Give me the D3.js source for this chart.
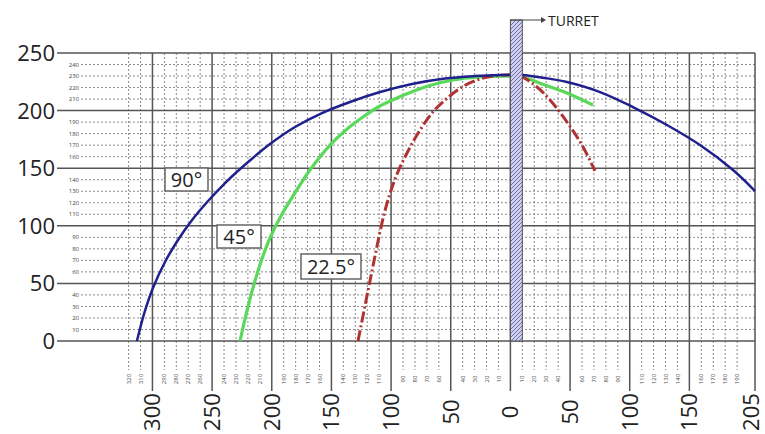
<!DOCTYPE html>
<html>
<head>
<meta charset="utf-8">
<script src="https://cdn.jsdelivr.net/npm/d3@7"></script>
<style>
  body { margin: 0; background: #fff; }
  text { font-family: "Open Sans", "DejaVu Sans", sans-serif; }
</style>
</head>
<body>
<div class="chart"></div>
<script>
// distances: negative = behind the turret (left side), positive = in front
var majorX = [-300, -250, -200, -150, -100, -50, 0, 50, 100, 150, 205];
var majorY = [0, 50, 100, 150, 200, 250];
var minorX = [-320, -310, -290, -280, -270, -260, -240, -230, -220, -210,
              -190, -180, -170, -160, -140, -130, -120, -110, -90, -80, -70, -60,
              -40, -30, -20, -10, 10, 20, 30, 40, 60, 70, 80, 90,
              110, 120, 130, 140, 160, 170, 180, 190];
var minorY = [10, 20, 30, 40, 60, 70, 80, 90, 110, 120, 130, 140,
              160, 170, 180, 190, 210, 220, 230, 240];

var dist90 = [-313, -307.1, -299.6, -289.5, -278.6, -266.8, -253.4, -238.3, -220.8, -201.5,
              -180.5, -157.9, -134.4, -109.2, -82.5, -54.8, -29.7, -8.7,
              9.7, 29, 47.4, 75.1, 102.7, 131.2, 158.9, 186.6, 205];
var height90 = [0, 23.4, 46, 68.6, 87.7, 105, 121.5, 138, 154.5, 171,
                185.8, 197.9, 207.5, 216.1, 223.1, 227.9, 230, 230.9,
                230.9, 228.3, 224.8, 216.1, 203.1, 187.5, 170.1, 148.4, 130.2];
var dist45 = [-226.6, -221.6, -215.8, -209.1, -201.5, -192.3, -182.2, -168, -151.2, -137.8,
              -123.6, -109.3, -95.1, -80.8, -67.4, -48.1, -25.5, -4.5,
              9.7, 29, 47.4, 69.2];
var height45 = [0, 22.6, 46, 68.6, 89.4, 108.5, 125.9, 148.4, 170.1, 183.2,
                194.4, 204, 210.9, 217, 221.8, 226.6, 229.2, 230,
                229.2, 222.2, 215.3, 204.9];
var dist22 = [-127.7, -121.9, -116, -110.2, -105.2, -100.2, -94.3, -87.5, -78.3, -65,
              -53.3, -39.9, -25.5, -11.2, -0.3,
              9.7, 22.3, 33.2, 47.4, 60.9, 70.9];
var height22 = [0, 30.4, 60.8, 90.3, 112.8, 130.2, 146.7, 161.5, 178.8, 198.8,
                210.5, 220.9, 227.4, 230.5, 230.9,
                229.2, 220.5, 209.2, 190.1, 168.4, 147.6];

var labels = ["90°", "45°", "22.5°"];

var width = 765, height = 434;
var svg = d3.select(".chart").append("svg")
  .attr("width", width)
  .attr("height", height);

var x = d3.scaleLinear().domain([-380, 205]).range([57, 755]);
var y = d3.scaleLinear().domain([0, 250]).range([341, 53]);

// hatch pattern for the turret
var pat = svg.append("defs").append("pattern")
  .attr("id", "hatch")
  .attr("patternUnits", "userSpaceOnUse")
  .attr("width", 4).attr("height", 4);
pat.append("rect").attr("width", 4).attr("height", 4).attr("fill", "#cfcfee");
pat.append("path")
  .attr("d", "M-1,1 l2,-2 M0,4 l4,-4 M3,5 l2,-2")
  .attr("stroke", "#6d6db0").attr("stroke-width", 1);

var grid = svg.append("g");

// minor dotted grid
grid.selectAll(".minor-h")
  .data(minorY)
  .enter()
    .append("line")
      .attr("x1", 81).attr("x2", 755)
      .attr("y1", function(d) { return y(d); })
      .attr("y2", function(d) { return y(d); })
      .attr("stroke", "#8a8a8a")
      .attr("stroke-width", 1)
      .attr("stroke-dasharray", "2,2");

grid.selectAll(".minor-v")
  .data(minorX)
  .enter()
    .append("line")
      .attr("x1", function(d) { return x(d); })
      .attr("x2", function(d) { return x(d); })
      .attr("y1", 53).attr("y2", 370)
      .attr("stroke", "#8a8a8a")
      .attr("stroke-width", 1)
      .attr("stroke-dasharray", "2,2");

// minor labels (tiny)
grid.selectAll(".minor-y-label")
  .data(minorY)
  .enter()
    .append("text")
      .attr("x", 79)
      .attr("y", function(d) { return y(d); })
      .attr("dy", "0.35em")
      .attr("text-anchor", "end")
      .attr("font-size", "6px")
      .attr("fill", "#444")
      .text(function(d) { return d; });

grid.selectAll(".minor-x-label")
  .data(minorX)
  .enter()
    .append("text")
      .attr("transform", function(d) { return "translate(" + x(d) + ",379) rotate(-90)"; })
      .attr("dy", "0.35em")
      .attr("text-anchor", "middle")
      .attr("font-size", "6px")
      .attr("fill", "#444")
      .text(function(d) { return Math.abs(d); });

// major grid
grid.selectAll(".major-h")
  .data(majorY)
  .enter()
    .append("line")
      .attr("x1", 57).attr("x2", 755)
      .attr("y1", function(d) { return y(d); })
      .attr("y2", function(d) { return y(d); })
      .attr("stroke", "#555")
      .attr("stroke-width", 1.5);

grid.selectAll(".major-v")
  .data(majorX)
  .enter()
    .append("line")
      .attr("x1", function(d) { return x(d); })
      .attr("x2", function(d) { return x(d); })
      .attr("y1", 53).attr("y2", 391)
      .attr("stroke", "#555")
      .attr("stroke-width", 1.5);

grid.selectAll(".major-y-label")
  .data(majorY)
  .enter()
    .append("text")
      .attr("x", 55)
      .attr("y", function(d) { return y(d); })
      .attr("dy", "0.36em")
      .attr("text-anchor", "end")
      .attr("font-size", "22px")
      .attr("fill", "#222")
      .text(function(d) { return d; });

grid.selectAll(".major-x-label")
  .data(majorX)
  .enter()
    .append("text")
      .attr("transform", function(d) {
        var px = Math.min(x(d), 751);
        return "translate(" + px + ",412) rotate(-90)";
      })
      .attr("dy", "0.36em")
      .attr("text-anchor", "middle")
      .attr("font-size", "22px")
      .attr("fill", "#222")
      .text(function(d) { return Math.abs(d); });

// trajectories
var line = d3.line()
  .x(function(d) { return x(d[0]); })
  .y(function(d) { return y(d[1]); })
  .curve(d3.curveCatmullRom);

function pts(xs, ys) { return xs.map(function(v, i) { return [v, ys[i]]; }); }

svg.append("path")
  .attr("d", line(pts(dist45, height45)))
  .attr("fill", "none")
  .attr("stroke", "#5ad85a")
  .attr("stroke-width", 3.2);

svg.append("path")
  .attr("d", line(pts(dist22, height22)))
  .attr("fill", "none")
  .attr("stroke", "#b03333")
  .attr("stroke-width", 3)
  .attr("stroke-dasharray", "11,3,2,3");

svg.append("path")
  .attr("d", line(pts(dist90, height90)))
  .attr("fill", "none")
  .attr("stroke", "#20208e")
  .attr("stroke-width", 2.5);

// turret
svg.append("rect")
  .attr("x", x(0)).attr("y", 20)
  .attr("width", x(10) - x(0))
  .attr("height", y(0) - 20)
  .attr("fill", "url(#hatch)")
  .attr("stroke", "#555")
  .attr("stroke-width", 1);

svg.append("line")
  .attr("x1", x(0)).attr("x2", 542)
  .attr("y1", 20).attr("y2", 20)
  .attr("stroke", "#444").attr("stroke-width", 1);
svg.append("path")
  .attr("d", "M541,17 L546,20 L541,23 Z")
  .attr("fill", "#444");
svg.append("text")
  .attr("x", 548).attr("y", 21)
  .attr("dy", "0.36em")
  .attr("font-size", "14px")
  .attr("fill", "#222")
  .text("TURRET");

// angle labels
var labelBoxes = [
  {x0: 165, y0: 168, w: 43, h: 23},
  {x0: 217, y0: 225, w: 44, h: 23},
  {x0: 301, y0: 254, w: 60, h: 25}
];
labelBoxes.forEach(function(b, i) {
  svg.append("rect")
    .attr("x", b.x0).attr("y", b.y0)
    .attr("width", b.w).attr("height", b.h)
    .attr("fill", "#fff")
    .attr("stroke", "#666")
    .attr("stroke-width", 1.5);
  svg.append("text")
    .attr("x", b.x0 + b.w / 2).attr("y", b.y0 + b.h / 2)
    .attr("dy", "0.36em")
    .attr("text-anchor", "middle")
    .attr("font-size", "20px")
    .attr("fill", "#222")
    .text(labels[i]);
});
</script>
</body>
</html>
